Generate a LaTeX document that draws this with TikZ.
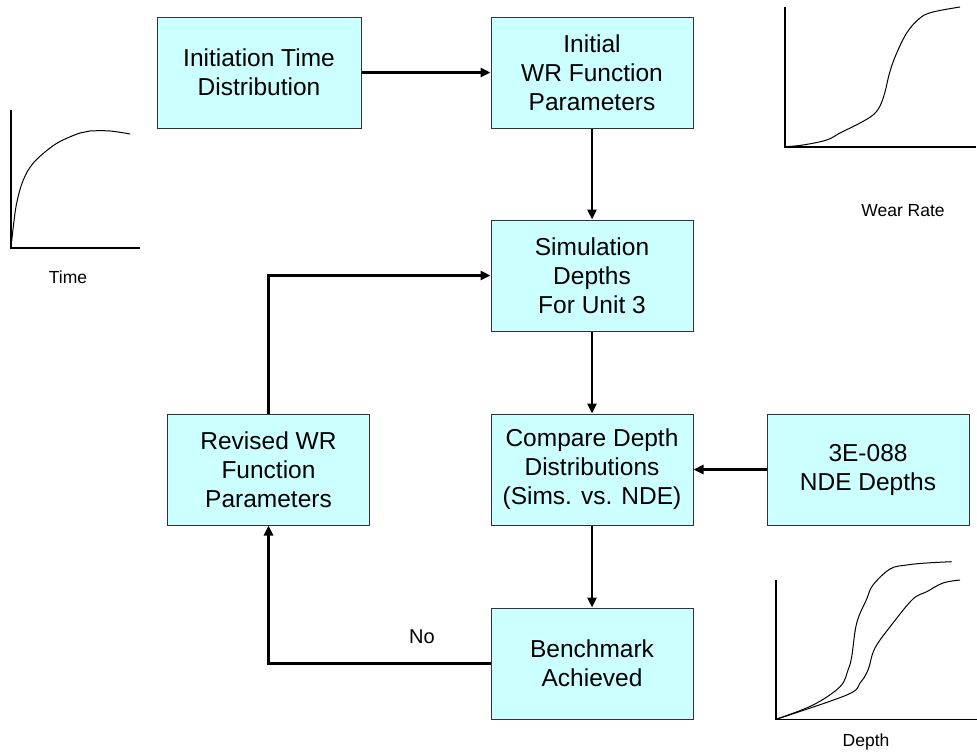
\documentclass[tikz,border=0pt]{standalone}
\usepackage{fontspec}
\setmainfont{Liberation Sans}
\usetikzlibrary{arrows.meta}
\definecolor{boxfill}{HTML}{CCFFFF}
\definecolor{boxline}{HTML}{333333}
\begin{document}
\begin{tikzpicture}[x=1pt,y=-1pt,
 box/.style={draw=boxline, line width=1pt, fill=boxfill, minimum width=202pt,
   minimum height=111pt, align=center, inner sep=0pt,
   font=\fontsize{24.5}{29}\selectfont},
 conn/.style={line width=2.5pt, -{Triangle[length=10pt,width=9pt]}},
 axisline/.style={line width=1.1pt},
 curveline/.style={line width=1pt},
 glabel/.style={font=\fontsize{17.5}{20}\selectfont},
 nolabel/.style={font=\fontsize{20}{23}\selectfont}]
\useasboundingbox (0,0) rectangle (977,755);

% boxes
\node[box, minimum width=204pt] (init) at (259,72.5) {Initiation Time\\Distribution};
\node[box] (iwr) at (592,72.5) {Initial\\WR Function\\Parameters};
\node[box] (sim) at (592,275.5) {Simulation\\Depths\\For Unit 3};
\node[box] (cmp) at (592,469.5) {Compare Depth\\Distributions\\(Sims. vs. NDE)};
\node[box] (nde) at (868,469.5) {3E-088\\NDE Depths};
\node[box] (rev) at (268.5,469.5) {Revised WR\\Function\\Parameters};
\node[box] (bench) at (592,663.5) {Benchmark\\Achieved};

% connectors
\draw[conn] (init.east) -- (iwr.west);
\draw[conn] (iwr.south) -- (sim.north);
\draw[conn] (sim.south) -- (cmp.north);
\draw[conn] (nde.west) -- (cmp.east);
\draw[conn] (cmp.south) -- (bench.north);
\draw[conn] (rev.north) |- (sim.west);
\draw[conn] (bench.west) -| (rev.south);
\node[nolabel] (no) at (422,637) {No};

% Time graph
\draw[axisline] (11,110) -- (11,248) -- (140,248);
\draw[curveline] plot[smooth, tension=0.6] coordinates {(11,248) (13.3,226.7) (16.7,203) (23.3,180) (33.3,163) (50,148) (63,140) (80,133) (90,131) (110,131) (130,134)};
\node[glabel] (tlabel) at (68,277) {Time};

% Wear rate graph
\draw[axisline] (785,7) -- (785,147) -- (976,147);
\draw[curveline] plot[smooth, tension=0.6] coordinates {(785,146.7) (803,145) (826.7,140) (840,133) (860,123) (873,115) (880,106) (885,92) (889,75) (895,57) (906.7,33) (920,18) (933,12) (960,7)};
\node[glabel] (wlabel) at (903,211) {Wear Rate};

% Depth graph
\draw[axisline] (776,580) -- (776,719.5) -- (977,719.5);
\draw[curveline] plot[smooth, tension=0.6] coordinates {(776,719.3) (813,705) (840,686.7) (848,670) (851.7,656.7) (856.7,623) (866.7,599) (873,585) (890,569) (906.7,565) (926.7,563) (951.7,561.7)};
\draw[curveline] plot[smooth, tension=0.6] coordinates {(776,719.3) (846.7,695) (860,683) (868,670) (875,648) (893,623) (913,599) (926.7,591.7) (943,583) (960,580)};
\node[glabel] (dlabel) at (866,742) {Depth};
\end{tikzpicture}
\end{document}
